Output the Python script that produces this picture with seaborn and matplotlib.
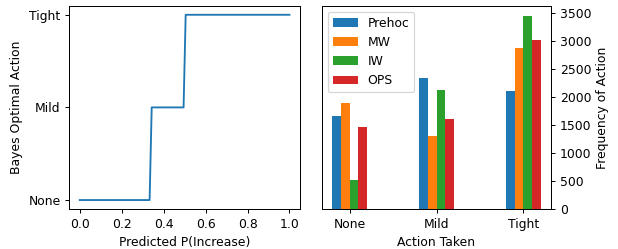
import numpy as np
import pandas as pd
import seaborn as sns
import matplotlib
matplotlib.use("Agg")
from matplotlib import pyplot as plt

# left panel: step breakpoints
p_increase = [0.0, 0.333, 0.343, 0.495, 0.505, 1.0]
optimal_action = [0, 0, 1, 1, 2, 2]
action_names = ["None", "Mild", "Tight"]

# right panel: action counts per method
methods = ["Prehoc", "MW", "IW", "OPS"]
prehoc = [1670, 2330, 2115]
mw = [1895, 1313, 2876]
iw = [529, 2133, 3440]
ops = [1473, 1616, 3024]

plt.rcParams["font.family"] = "DejaVu Sans"
plt.rcParams["font.size"] = 10

# reference looks like a 100dpi figure shrunk ~0.89
DPI = 89
fig = plt.figure(figsize=(618 / DPI, 249 / DPI), dpi=DPI)
ax1 = fig.add_axes([0.1121, 0.1594, 0.3733, 0.8185])
ax2 = fig.add_axes([0.5206, 0.1594, 0.3715, 0.8185])

sns.lineplot(x=p_increase, y=optimal_action, ax=ax1, color="tab:blue", linewidth=1.5)
ax1.set_yticks([0, 1, 2])
ax1.set_yticklabels(action_names)
ax1.set_xticks([0.0, 0.2, 0.4, 0.6, 0.8, 1.0])
ax1.set_xlabel("Predicted P(Increase)")
ax1.set_ylabel("Bayes Optimal Action")

rows = []
for name, vals in zip(methods, [prehoc, mw, iw, ops]):
    for act, v in zip(action_names, vals):
        rows.append({"action": act, "method": name, "count": v})
df = pd.DataFrame(rows)

sns.barplot(data=df, x="action", y="count", hue="method", order=action_names,
            hue_order=methods, palette="tab10", saturation=1, width=0.4,
            linewidth=0, ax=ax2)
ax2.set_xlim(-0.32, 2.32)
ax2.set_ylim(0, 3630)
ax2.set_yticks(np.arange(0, 3501, 500))
ax2.yaxis.tick_right()
ax2.yaxis.set_label_position("right")
ax2.set_xlabel("Action Taken")
ax2.set_ylabel("Frequency of Action")
ax2.legend(loc="upper left", title=None)

fig.savefig("out.png", dpi=DPI)
